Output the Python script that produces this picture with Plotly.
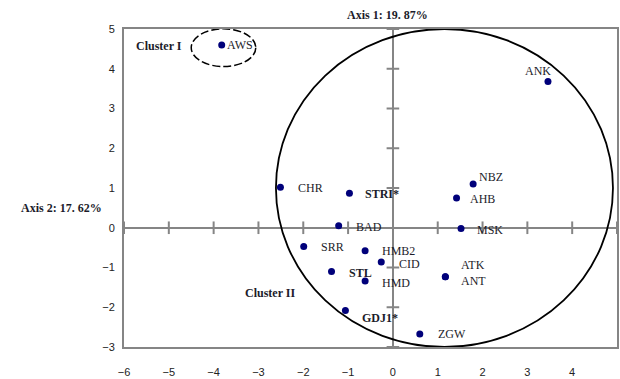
import plotly.graph_objects as go

# ---- data ----
names = ["AWS", "ANK", "CHR", "STRI*", "BAD", "SRR", "HMB2", "CID", "STL", "HMD",
         "NBZ", "AHB", "MSK", "ATK", "ANT", "GDJ1*", "ZGW"]
axis1 = [-3.82, 3.46, -2.51, -0.97, -1.21, -1.99, -0.62, -0.26, -1.37, -0.62,
         1.79, 1.42, 1.52, 1.17, 1.17, -1.06, 0.60]
axis2 = [4.60, 3.68, 1.02, 0.87, 0.05, -0.47, -0.58, -0.86, -1.10, -1.34,
         1.10, 0.75, -0.02, -1.23, -1.23, -2.08, -2.67]
bold_names = ["STRI*", "STL", "GDJ1*"]

x_ticks = [-6, -5, -4, -3, -2, -1, 0, 1, 2, 3, 4, 5]
y_ticks = [-3, -2, -1, 0, 1, 2, 3, 4, 5]

axis1_title = "Axis 1: 19. 87%"
axis2_title = "Axis 2: 17. 62%"
clusters = ["Cluster I", "Cluster II"]
cluster_x = [-5.77, -3.34]
cluster_y = [4.58, -1.65]

# cluster ellipses (centre x, centre y, radius x, radius y)
ell_cx = [-3.78, 1.15]
ell_cy = [4.53, 1.00]
ell_rx = [0.72, 3.76]
ell_ry = [0.475, 4.00]

# ---- label styling (pixel offsets) ----
label_offsets = {
    "AWS": (3, 0, "left"), "ANK": (-10, 10, "center"), "CHR": (16, -1, "left"),
    "STRI*": (14, -1, "left"), "BAD": (15, -1, "left"), "SRR": (15, -1, "left"),
    "HMB2": (15, 0, "left"), "CID": (16, -2, "left"), "STL": (15, -2, "left"),
    "HMD": (15, -2, "left"), "NBZ": (4, 7, "left"), "AHB": (11, -1, "left"),
    "MSK": (14, -1, "left"), "ATK": (14, 12, "left"), "ANT": (14, -4, "left"),
    "GDJ1*": (15, -8, "left"), "ZGW": (16, 0, "left"),
}

GRAY = "#858585"
SERIF = "Liberation Serif"
SANS = "Liberation Sans"

fig = go.Figure()

# tick marks crossing the zero axes
fig.add_trace(go.Scatter(
    x=[t for t in x_ticks if t != 0], y=[0] * (len(x_ticks) - 1), mode="markers",
    marker=dict(symbol="line-ns", size=9, line=dict(color=GRAY, width=2)),
    hoverinfo="skip", showlegend=False))
fig.add_trace(go.Scatter(
    x=[0] * (len(y_ticks) - 1), y=[t for t in y_ticks if t != 0], mode="markers",
    marker=dict(symbol="line-ew", size=9, line=dict(color=GRAY, width=2)),
    hoverinfo="skip", showlegend=False))

# points
fig.add_trace(go.Scatter(
    x=axis1, y=axis2, mode="markers",
    marker=dict(color="#00007a", size=7, symbol="circle"),
    showlegend=False))

annotations = []
for n, xv, yv in zip(names, axis1, axis2):
    dx, dy, anc = label_offsets[n]
    txt = f"<b>{n}</b>" if n in bold_names else n
    annotations.append(dict(
        x=xv, y=yv, xref="x", yref="y", text=txt, showarrow=False,
        xanchor=anc, yanchor="middle", xshift=dx, yshift=dy,
        font=dict(family=SERIF, size=12, color="#1c1c2a")))

for c, cx, cy in zip(clusters, cluster_x, cluster_y):
    annotations.append(dict(
        x=cx, y=cy, xref="x", yref="y", text=f"<b>{c}</b>", showarrow=False,
        xanchor="left", yanchor="middle",
        font=dict(family=SERIF, size=12, color="#1c1c2a")))

annotations.append(dict(
    x=-0.13, y=1, xref="x", yref="paper", text=f"<b>{axis1_title}</b>",
    showarrow=False, xanchor="center", yanchor="bottom", yshift=5,
    font=dict(family=SERIF, size=12, color="#1c1c2a")))
annotations.append(dict(
    x=0, y=0.5, xref="paper", yref="y", text=f"<b>{axis2_title}</b>",
    showarrow=False, xanchor="right", yanchor="middle", xshift=-20,
    font=dict(family=SERIF, size=12, color="#1c1c2a")))

shapes = []
for i, (cx, cy, rx, ry) in enumerate(zip(ell_cx, ell_cy, ell_rx, ell_ry)):
    shapes.append(dict(
        type="circle", xref="x", yref="y",
        x0=cx - rx, x1=cx + rx, y0=cy - ry, y1=cy + ry,
        line=dict(color="black", width=1.8 if i else 1.5,
                  dash="8px,3px" if i == 0 else "solid")))

fig.update_layout(
    width=620, height=379,
    margin=dict(l=124, r=1, t=29, b=31),
    paper_bgcolor="white", plot_bgcolor="white",
    annotations=annotations, shapes=shapes,
    xaxis=dict(range=[-6, 5], tickvals=x_ticks, showgrid=False,
               zeroline=True, zerolinecolor=GRAY, zerolinewidth=2,
               showline=True, mirror=True, linecolor=GRAY, linewidth=2,
               ticks="outside", ticklen=14, tickcolor="rgba(0,0,0,0)",
               tickfont=dict(family=SANS, size=11, color="#222")),
    yaxis=dict(range=[-3, 5], tickvals=y_ticks, showgrid=False,
               zeroline=True, zerolinecolor=GRAY, zerolinewidth=2,
               showline=True, mirror=True, linecolor=GRAY, linewidth=2,
               ticks="outside", ticklen=5, tickcolor="rgba(0,0,0,0)",
               tickfont=dict(family=SANS, size=11, color="#222")),
)

fig.write_html("out.html", config={"displayModeBar": False})

# remove the default page margin so the chart sits at the window's top-left
with open("out.html", encoding="utf-8") as f:
    html = f.read()
html = html.replace("<head>", "<head><style>html,body{margin:0;padding:0;overflow:hidden;}</style>", 1)
with open("out.html", "w", encoding="utf-8") as f:
    f.write(html)
